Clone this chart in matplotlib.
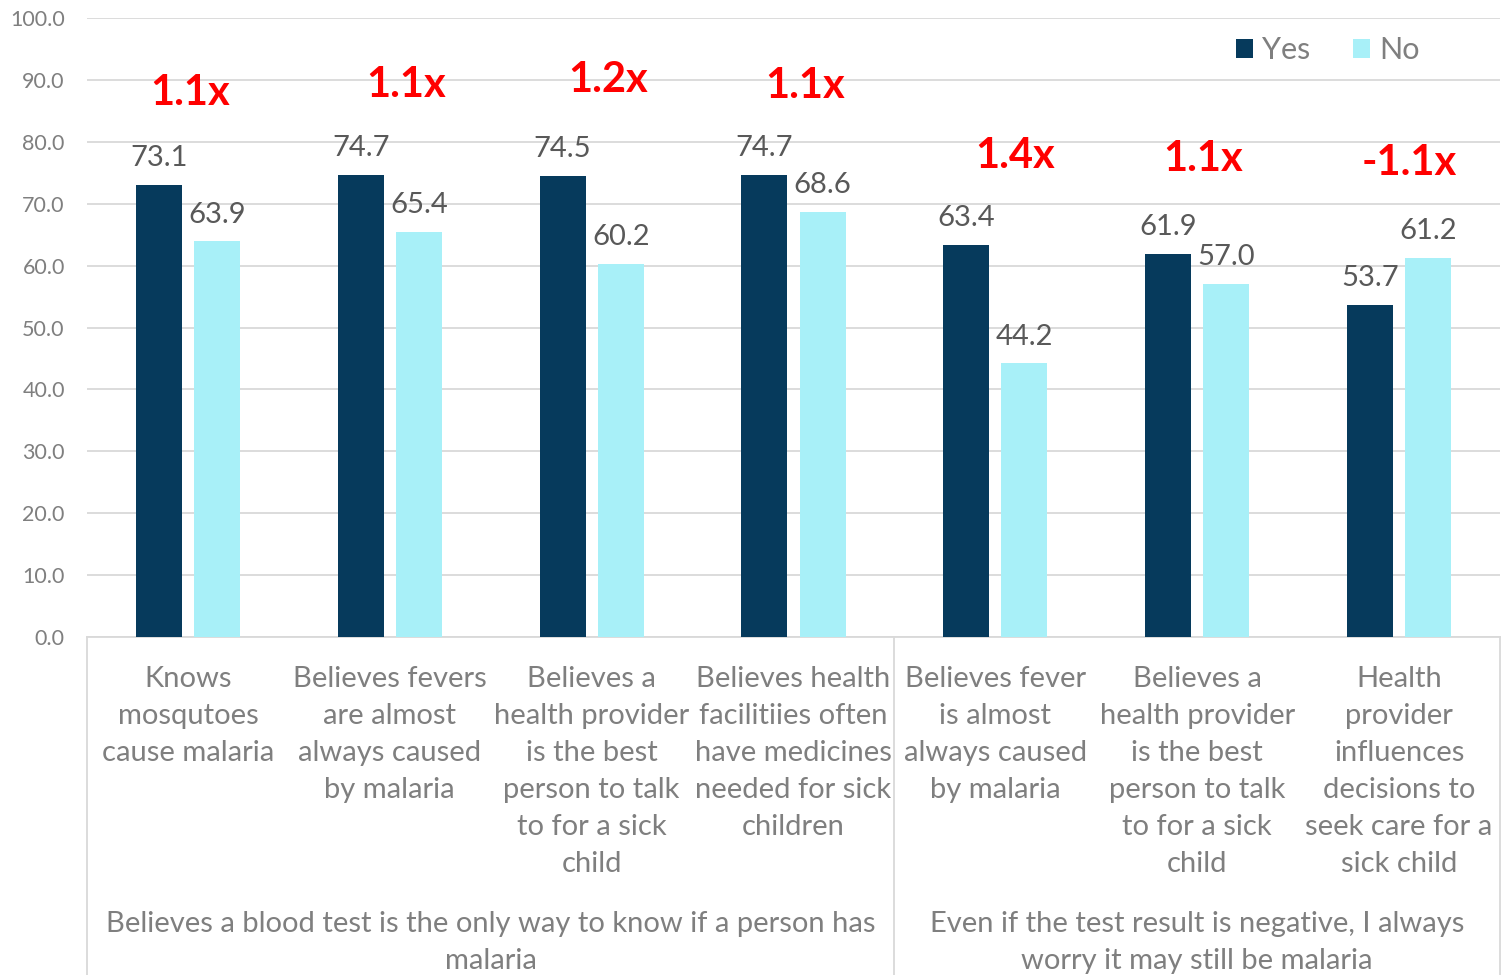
import numpy as np
import matplotlib.pyplot as plt
from matplotlib.lines import Line2D

plt.rcParams['font.family'] = ['Lato', 'DejaVu Sans']

# Data
categories = [
    "Knows\nmosqutoes\ncause malaria",
    "Believes fevers\nare almost\nalways caused\nby malaria",
    "Believes a\nhealth provider\nis the best\nperson to talk\nto for a sick\nchild",
    "Believes health\nfacilitiies often\nhave medicines\nneeded for sick\nchildren",
    "Believes fever\nis almost\nalways caused\nby malaria",
    "Believes a\nhealth provider\nis the best\nperson to talk\nto for a sick\nchild",
    "Health\nprovider\ninfluences\ndecisions to\nseek care for a\nsick child",
]
groups = [
    "Believes a blood test is the only way to know if a person has\nmalaria",
    "Even if the test result is negative, I always\nworry it may still be malaria",
]
group_sizes = [4, 3]
yes_vals = [73.1, 74.7, 74.5, 74.7, 63.4, 61.9, 53.7]
no_vals = [63.9, 65.4, 60.2, 68.6, 44.2, 57.0, 61.2]
ratios = ["1.1x", "1.1x", "1.2x", "1.1x", "1.4x", "1.1x", "-1.1x"]
ratio_y = [87.9, 89.2, 90.0, 89.0, 77.7, 77.2, 76.6]
ratio_dx = [0.01, 0.08, 0.08, 0.06, 0.10, 0.03, 0.05]

yes_color = '#063A5C'
no_color = '#A8F0F8'
grid_color = '#D9D9D9'
label_gray = '#7F7F7F'
value_gray = '#595959'

fig = plt.figure(figsize=(15.08, 9.75), dpi=100)
ax = fig.add_axes([87 / 1508, 1 - 637 / 975, (1500 - 87) / 1508, (637 - 18) / 975])

x = np.arange(len(categories))
w = 0.228
off = 0.144
b1 = ax.bar(x - off, yes_vals, w, color=yes_color, label='Yes', zorder=3)
b2 = ax.bar(x + off, no_vals, w, color=no_color, label='No', zorder=3)

for rects, vals in ((b1, yes_vals), (b2, no_vals)):
    for r, v in zip(rects, vals):
        ax.annotate(f"{v:.1f}", (r.get_x() + r.get_width() / 2, v),
                    xytext=(0, 10), textcoords='offset points',
                    ha='center', va='bottom', fontsize=21, color=value_gray)

for i, (t, yv, dx) in enumerate(zip(ratios, ratio_y, ratio_dx)):
    ax.text(i + dx, yv, t, ha='center', va='center', fontsize=30,
            fontweight='bold', color='#FF0000')

ax.set_xlim(-0.5, len(categories) - 0.5)
ax.set_ylim(0, 100)
ax.set_yticks(np.arange(0, 101, 10))
ax.set_yticklabels([f"{v:.1f}" for v in np.arange(0, 101, 10)])
ax.tick_params(axis='y', length=0, labelsize=15.5, colors=label_gray, pad=16)
ax.tick_params(axis='x', length=0)
ax.set_xticks([])
ax.yaxis.grid(True, color=grid_color, linewidth=1.3, zorder=0)
for s in ['left', 'right', 'top']:
    ax.spines[s].set_visible(False)
ax.spines['bottom'].set_color(grid_color)
ax.spines['bottom'].set_linewidth(1.3)

# category labels
for i, c in enumerate(categories):
    ax.text(i, -4.7, c, ha='center', va='top', fontsize=21, color=label_gray,
            linespacing=1.52, clip_on=False)

# group separators and labels
depth = -338 / 619
edges = np.concatenate([[0], np.cumsum(group_sizes)]) - 0.5
for e in edges:
    xa = (e + 0.5) / len(categories)
    ax.add_line(Line2D([xa, xa], [0, depth], transform=ax.transAxes,
                       color=grid_color, linewidth=1.3, clip_on=False))
for g, lo, hi in zip(groups, edges[:-1], edges[1:]):
    ax.text((lo + hi) / 2, -44.3, g, ha='center', va='top', fontsize=21,
            color=label_gray, linespacing=1.52, clip_on=False)

leg = ax.legend(loc='center right', bbox_to_anchor=(0.943, 0.948), ncol=2, frameon=False,
                fontsize=22, handlelength=0.55, handleheight=0.55, handletextpad=0.3,
                columnspacing=1.4, borderaxespad=0, borderpad=0)
for t in leg.get_texts():
    t.set_color(label_gray)

fig.savefig('out.png', dpi=100)
